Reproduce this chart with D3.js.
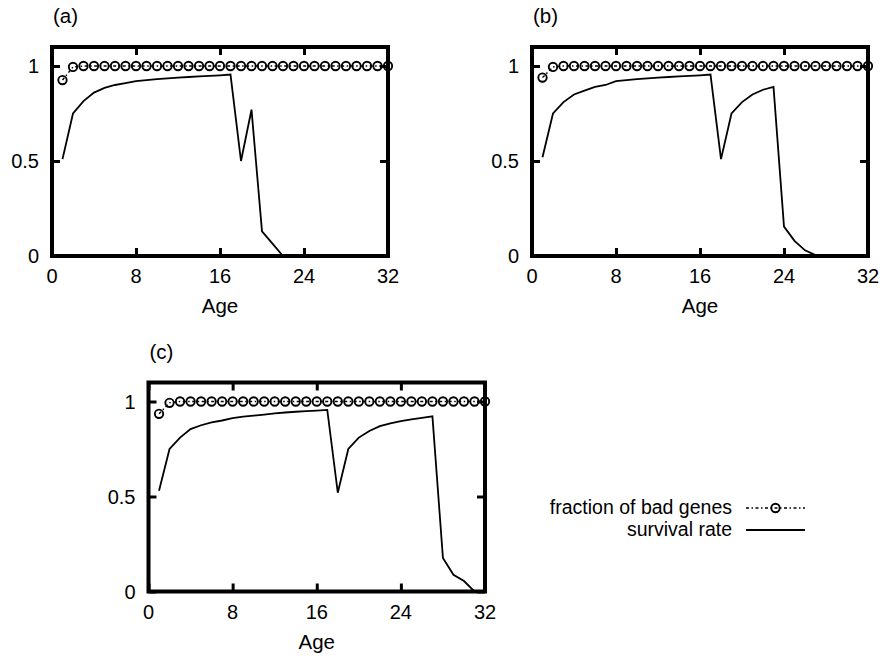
<!DOCTYPE html>
<html>
<head>
<meta charset="utf-8">
<script src="https://cdn.jsdelivr.net/npm/d3@7"></script>
<style>
html, body { margin: 0; padding: 0; background: #fff; }
svg { display: block; font-family: "Liberation Sans", Arial, Helvetica, sans-serif; }
</style>
</head>
<body>
<svg id="chart" width="883" height="659"></svg>
<script>
// ---- data ----
const ages = d3.range(1, 33); // 1..32
const xTicks = [0, 8, 16, 24, 32];
const yTicks = [0, 0.5, 1];
const yTickLabels = ["0", "0.5", "1"];
const panelLabels = ["(a)", "(b)", "(c)"];
const seriesNames = ["fraction of bad genes", "survival rate"];

const fractionA = [0.926, 0.995, 1, 1, 1, 1, 1, 1, 1, 1, 1, 1, 1, 1, 1, 1,
                   1, 1, 1, 1, 1, 1, 1, 1, 1, 1, 1, 1, 1, 1, 1, 1];
const survivalA = [0.51, 0.75, 0.815, 0.86, 0.885, 0.90, 0.91, 0.92, 0.926, 0.931, 0.935, 0.939, 0.942, 0.945, 0.948, 0.951,
                   0.955, 0.50, 0.77, 0.13, 0.065, 0, 0, 0, 0, 0, 0, 0, 0, 0, 0, 0];

const fractionB = [0.939, 0.995, 1, 1, 1, 1, 1, 1, 1, 1, 1, 1, 1, 1, 1, 1,
                   1, 1, 1, 1, 1, 1, 1, 1, 1, 1, 1, 1, 1, 1, 1, 1];
const survivalB = [0.52, 0.75, 0.81, 0.85, 0.87, 0.89, 0.90, 0.92, 0.926, 0.931, 0.935, 0.939, 0.942, 0.945, 0.948, 0.951,
                   0.955, 0.51, 0.75, 0.81, 0.85, 0.875, 0.89, 0.155, 0.08, 0.03, 0.005, 0, 0, 0, 0, 0];

const fractionC = [0.935, 0.993, 1, 1, 1, 1, 1, 1, 1, 1, 1, 1, 1, 1, 1, 1,
                   1, 1, 1, 1, 1, 1, 1, 1, 1, 1, 1, 1, 1, 1, 1, 1];
const survivalC = [0.53, 0.75, 0.81, 0.855, 0.875, 0.89, 0.90, 0.912, 0.92, 0.926, 0.931, 0.937, 0.942, 0.946, 0.949, 0.952,
                   0.956, 0.52, 0.75, 0.81, 0.845, 0.87, 0.885, 0.897, 0.906, 0.914, 0.922, 0.177, 0.088, 0.055, 0, 0];

const panelsData = [
  { label: panelLabels[0], fraction: fractionA, survival: survivalA },
  { label: panelLabels[1], fraction: fractionB, survival: survivalB },
  { label: panelLabels[2], fraction: fractionC, survival: survivalC }
];

// ---- layout ----
const panelBoxes = [
  { left: 52, top: 47, width: 336, height: 209 },
  { left: 532, top: 47, width: 336, height: 209 },
  { left: 148.5, top: 382.5, width: 336.5, height: 209 }
];
const xDomain = [0, 32];
const yDomain = [0, 1.1];
const dashPattern = "3,2.5,1.5,2.5";
const markerR = 4.2;
const markerW = 1.9;

const svg = d3.select("#chart");

panelsData.forEach((p, i) => {
  const box = panelBoxes[i];
  const x = d3.scaleLinear().domain(xDomain).range([box.left, box.left + box.width]);
  const y = d3.scaleLinear().domain(yDomain).range([box.top + box.height, box.top]);
  const g = svg.append("g");

  const clipId = "clip" + i;
  svg.append("clipPath").attr("id", clipId)
    .append("rect").attr("x", box.left).attr("y", box.top - 2)
    .attr("width", box.width).attr("height", box.height + 2);

  // survival rate line
  const line = d3.line().x((d, j) => x(ages[j])).y(d => y(d));
  g.append("path")
    .datum(p.survival)
    .attr("d", line)
    .attr("fill", "none")
    .attr("stroke", "#000")
    .attr("stroke-width", 1.8)
    .attr("stroke-linejoin", "miter")
    .attr("clip-path", `url(#${clipId})`);

  // ticks (inward, mirrored)
  const tickLen = 8;
  const bottomAxis = d3.axisBottom(x).tickValues(xTicks).tickSize(-tickLen).tickFormat("");
  const topAxis = d3.axisTop(x).tickValues(xTicks).tickSize(-tickLen).tickFormat("");
  const leftAxis = d3.axisLeft(y).tickValues(yTicks).tickSize(-tickLen).tickFormat("");
  const rightAxis = d3.axisRight(y).tickValues(yTicks).tickSize(-tickLen).tickFormat("");
  const axes = [
    [bottomAxis, `translate(0,${box.top + box.height})`],
    [topAxis, `translate(0,${box.top})`],
    [leftAxis, `translate(${box.left},0)`],
    [rightAxis, `translate(${box.left + box.width},0)`]
  ];
  axes.forEach(([ax, tr]) => {
    const ag = g.append("g").attr("transform", tr).call(ax);
    ag.select(".domain").remove();
    ag.selectAll(".tick line").attr("stroke", "#000").attr("stroke-width", 3);
  });

  // frame
  g.append("rect")
    .attr("x", box.left).attr("y", box.top)
    .attr("width", box.width).attr("height", box.height)
    .attr("fill", "none").attr("stroke", "#000").attr("stroke-width", 4);

  // tick labels
  g.selectAll(".xlab").data(xTicks).enter().append("text")
    .attr("x", d => x(d)).attr("y", box.top + box.height + 27)
    .attr("text-anchor", "middle").attr("font-size", 20).text(d => d);
  g.selectAll(".ylab").data(yTicks).enter().append("text")
    .attr("x", box.left - 13).attr("y", d => y(d) + 7)
    .attr("text-anchor", "end").attr("font-size", 20).text((d, j) => yTickLabels[j]);

  // axis title
  g.append("text")
    .attr("x", x(16)).attr("y", box.top + box.height + 57)
    .attr("text-anchor", "middle").attr("font-size", 20.5).text("Age");

  // panel label
  g.append("text")
    .attr("x", box.left + 1).attr("y", box.top - 24)
    .attr("font-size", 20.5).text(p.label);

  // fraction of bad genes: dash-dot line + open circles
  g.append("path")
    .datum(p.fraction)
    .attr("d", line)
    .attr("fill", "none")
    .attr("stroke", "#000")
    .attr("stroke-width", 1.4)
    .attr("stroke-dasharray", dashPattern);
  g.selectAll(".pt").data(p.fraction).enter().append("circle")
    .attr("cx", (d, j) => x(ages[j])).attr("cy", d => y(d))
    .attr("r", markerR)
    .attr("fill", "none").attr("stroke", "#000").attr("stroke-width", markerW);
});

// ---- legend ----
const legend = svg.append("g");
const legX = 732, legLine0 = 746, legLine1 = 805;
const legRows = [508, 530];
seriesNames.forEach((name, i) => {
  legend.append("text")
    .attr("x", legX).attr("y", legRows[i] + 6)
    .attr("text-anchor", "end").attr("font-size", 19.5).text(name);
});
legend.append("line")
  .attr("x1", legLine0).attr("x2", legLine1)
  .attr("y1", legRows[0]).attr("y2", legRows[0])
  .attr("stroke", "#000").attr("stroke-width", 1.4).attr("stroke-dasharray", dashPattern);
legend.append("circle")
  .attr("cx", (legLine0 + legLine1) / 2).attr("cy", legRows[0]).attr("r", markerR)
  .attr("fill", "none").attr("stroke", "#000").attr("stroke-width", markerW);
legend.append("line")
  .attr("x1", legLine0).attr("x2", legLine1)
  .attr("y1", legRows[1]).attr("y2", legRows[1])
  .attr("stroke", "#000").attr("stroke-width", 1.8);
</script>
</body>
</html>
